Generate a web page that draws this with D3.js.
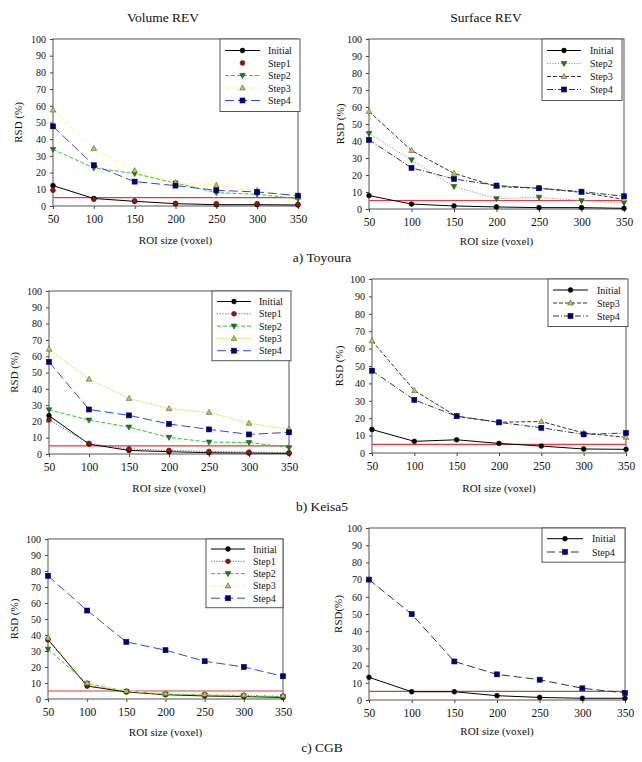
<!DOCTYPE html>
<html>
<head>
<meta charset="utf-8">
<script src="https://cdn.jsdelivr.net/npm/d3@7"></script>
<style>
  body { margin: 0; background: #fff; }
  svg text { font-family: "Liberation Serif", "DejaVu Serif", serif; fill: #111; }
</style>
</head>
<body>
<div id="chart"></div>
<script>
// shared axes
const roiSizes = [50, 100, 150, 200, 250, 300, 350];
const rsdTicks = [0, 10, 20, 30, 40, 50, 60, 70, 80, 90, 100];
const thresholdRsd = 5;

// a) Toyoura - volume REV
const toyVolInitial = [12.2, 4.5, 2.8, 1.4, 0.8, 0.8, 0.6];
const toyVolStep1 = [9.4, 4.0, 3.0, 1.4, 1.4, 1.4, 1.0];
const toyVolStep2 = [33.9, 22.8, 19.4, 13.8, 8.0, 7.0, 4.4];
const toyVolStep3 = [57.5, 34.5, 21.2, 14.0, 12.4, 9.4, 5.2];
const toyVolStep4 = [47.7, 24.4, 14.6, 12.2, 9.4, 8.4, 6.2];

// a) Toyoura - surface REV
const toySurfInitial = [7.9, 2.9, 1.8, 1.2, 0.8, 0.8, 0.4];
const toySurfStep2 = [44.4, 28.9, 13.2, 6.1, 6.9, 4.9, 3.7];
const toySurfStep3 = [57.4, 34.4, 21.0, 13.2, 12.2, 9.8, 5.7];
const toySurfStep4 = [40.7, 24.2, 17.7, 13.8, 12.2, 10.2, 7.5];

// b) Keisa5 - volume REV
const keiVolInitial = [23.5, 6.1, 2.2, 1.4, 0.8, 0.6, 0.4];
const keiVolStep1 = [21.0, 6.5, 3.1, 2.2, 1.6, 1.2, 0.8];
const keiVolStep2 = [27.1, 20.8, 16.5, 10.2, 7.3, 7.1, 3.9];
const keiVolStep3 = [64.3, 45.9, 34.1, 27.8, 25.5, 18.8, 15.3];
const keiVolStep4 = [56.5, 27.3, 23.7, 18.4, 15.1, 12.0, 13.3];

// b) Keisa5 - surface REV
const keiSurfInitial = [13.5, 6.7, 7.6, 5.5, 4.0, 2.3, 2.1];
const keiSurfStep3 = [64.5, 35.9, 21.0, 17.7, 18.1, 11.5, 9.0];
const keiSurfStep4 = [47.3, 30.5, 21.2, 17.6, 14.5, 10.7, 11.5];

// c) CGB - volume REV
const cgbVolInitial = [37.2, 8.1, 4.4, 2.7, 1.9, 1.5, 1.0];
const cgbVolStep1 = [37.0, 8.4, 4.8, 3.1, 2.7, 2.3, 1.7];
const cgbVolStep2 = [31.1, 9.8, 4.8, 2.9, 2.5, 1.9, 1.5];
const cgbVolStep3 = [38.2, 10.0, 5.0, 3.5, 2.9, 2.5, 2.1];
const cgbVolStep4 = [77.0, 55.3, 35.7, 30.5, 23.6, 20.0, 14.2];

// c) CGB - surface REV
const cgbSurfInitial = [13.2, 4.8, 4.8, 2.5, 1.5, 1.0, 1.0];
const cgbSurfStep4 = [70.0, 49.9, 22.4, 14.9, 11.8, 6.8, 4.1];

// line / marker looks
const styles = {
  initial: { stroke: '#000', dash: null, marker: 'circle', fill: '#000', mstroke: '#000' },
  step1dots: { stroke: 'none', dash: null, marker: 'circle', fill: '#9b1010', mstroke: '#6a0a0a' },
  step1dotted: { stroke: '#666', dash: '1.2,1.5', marker: 'circle', fill: '#9b1010', mstroke: '#6a0a0a' },
  step2green: { stroke: '#2ecc2e', dash: '4,2', marker: 'down', fill: '#1d7a1d', mstroke: '#145214' },
  step2dotted: { stroke: '#999', dash: '1.2,1.5', marker: 'down', fill: '#1d7a1d', mstroke: '#145214' },
  step3yellow: { stroke: '#ffff66', dash: '5,3', marker: 'up', fill: '#c8c83a', mstroke: '#555' },
  step3yellowdot: { stroke: '#d8d830', dash: '1.5,1.5', marker: 'up', fill: '#c8c83a', mstroke: '#555' },
  step3black: { stroke: '#333', dash: '4,2', marker: 'up', fill: '#c8c83a', mstroke: '#555' },
  step4blue: { stroke: '#3344ee', dash: '9,4', marker: 'square', fill: '#00007a', mstroke: '#00005a' },
  step4dashdot: { stroke: '#333', dash: '6,2,1,2', marker: 'square', fill: '#00007a', mstroke: '#00005a' },
  step4black: { stroke: '#333', dash: '8,4', marker: 'square', fill: '#00007a', mstroke: '#00005a' }
};

const panels = [
  {
    box: [53, 39, 298, 206], ylabel: 'RSD (%)', ylabelX: 18, xlabelY: 240,
    legend: { x: 220, w: 80, row: 12.5, first: 11.5, lineX: [5, 40], textX: 48 },
    series: [
      ['Initial', toyVolInitial, 'initial'], ['Step1', toyVolStep1, 'step1dots'],
      ['Step2', toyVolStep2, 'step2green'], ['Step3', toyVolStep3, 'step3yellow'],
      ['Step4', toyVolStep4, 'step4blue']
    ]
  },
  {
    box: [369, 39, 624, 209], ylabel: 'RSD (%)', ylabelX: 340, xlabelY: 241,
    legend: { x: 542, w: 80, row: 13, first: 11.5, lineX: [5, 39], textX: 48 },
    series: [
      ['Initial', toySurfInitial, 'initial'], ['Step2', toySurfStep2, 'step2dotted'],
      ['Step3', toySurfStep3, 'step3black'], ['Step4', toySurfStep4, 'step4dashdot']
    ]
  },
  {
    box: [49, 291, 289, 454], ylabel: 'RSD (%)', ylabelX: 14, xlabelY: 488,
    legend: { x: 212, w: 79, row: 12.3, first: 10.5, lineX: [5, 39], textX: 47 },
    series: [
      ['Initial', keiVolInitial, 'initial'], ['Step1', keiVolStep1, 'step1dotted'],
      ['Step2', keiVolStep2, 'step2green'], ['Step3', keiVolStep3, 'step3yellowdot'],
      ['Step4', keiVolStep4, 'step4blue']
    ]
  },
  {
    box: [372, 279, 626, 453], ylabel: 'RSD (%)', ylabelX: 339, xlabelY: 488,
    legend: { x: 548, w: 80, row: 13, first: 11, lineX: [5, 40], textX: 49 },
    series: [
      ['Initial', keiSurfInitial, 'initial'], ['Step3', keiSurfStep3, 'step3black'],
      ['Step4', keiSurfStep4, 'step4dashdot']
    ]
  },
  {
    box: [48, 539, 283, 699], ylabel: 'RSD (%)', ylabelX: 14, xlabelY: 732,
    legend: { x: 206, w: 77, row: 12.3, first: 10, lineX: [5, 39], textX: 47 },
    series: [
      ['Initial', cgbVolInitial, 'initial'], ['Step1', cgbVolStep1, 'step1dotted'],
      ['Step2', cgbVolStep2, 'step2green'], ['Step3', cgbVolStep3, 'step3yellow'],
      ['Step4', cgbVolStep4, 'step4blue']
    ]
  },
  {
    box: [369, 528, 625, 700], ylabel: 'RSD(%)', ylabelX: 338, xlabelY: 731,
    legend: { x: 542, w: 83, row: 13.3, first: 10.7, lineX: [5, 41], textX: 50 },
    series: [
      ['Initial', cgbSurfInitial, 'initial'], ['Step4', cgbSurfStep4, 'step4black']
    ]
  }
];

const svg = d3.select('#chart').append('svg')
  .attr('width', 642)
  .attr('height', 762);

// column titles and row captions
svg.append('text').attr('x', 163).attr('y', 22).attr('text-anchor', 'middle')
  .attr('font-size', 13.5).text('Volume REV');
svg.append('text').attr('x', 486).attr('y', 22).attr('text-anchor', 'middle')
  .attr('font-size', 13.5).text('Surface REV');
[['a) Toyoura', 262], ['b) Keisa5', 511], ['c) CGB', 752]].forEach(([t, y]) => {
  svg.append('text').attr('x', 322).attr('y', y).attr('text-anchor', 'middle')
    .attr('font-size', 13.5).text(t);
});

function drawMarker(g, kind, cx, cy, st) {
  let m;
  if (kind === 'circle') {
    m = g.append('circle').attr('cx', cx).attr('cy', cy).attr('r', 2.4);
  } else if (kind === 'square') {
    m = g.append('rect').attr('x', cx - 2.5).attr('y', cy - 2.5).attr('width', 5).attr('height', 5);
  } else {
    const s = kind === 'up' ? 1 : -1;
    m = g.append('path').attr('d', `M${cx},${cy - 3 * s}L${cx + 2.8},${cy + 2 * s}L${cx - 2.8},${cy + 2 * s}Z`);
  }
  m.attr('fill', st.fill).attr('stroke', st.mstroke).attr('stroke-width', 0.6);
}

panels.forEach((p) => {
  const [x0, y0, x1, y1] = p.box;
  const g = svg.append('g');

  const x = d3.scaleLinear().domain([50, 350]).range([x0, x1]);
  const y = d3.scaleLinear().domain([0, 100]).range([y1, y0]);

  // axes
  g.append('g')
    .attr('transform', `translate(${x0},0)`)
    .call(d3.axisLeft(y).tickValues(rsdTicks).tickSize(3).tickPadding(4))
    .call((a) => a.select('.domain').remove())
    .call((a) => a.selectAll('text').attr('font-size', 10))
    .call((a) => a.selectAll('line').attr('stroke', '#444'));

  g.append('g')
    .attr('transform', `translate(0,${y1})`)
    .call(d3.axisBottom(x).tickValues(roiSizes).tickSize(3).tickPadding(6))
    .call((a) => a.select('.domain').remove())
    .call((a) => a.selectAll('text').attr('font-size', 11.5))
    .call((a) => a.selectAll('line').attr('stroke', '#444'));

  // frame
  g.append('rect')
    .attr('x', x0).attr('y', y0)
    .attr('width', x1 - x0).attr('height', y1 - y0)
    .attr('fill', 'none').attr('stroke', '#555').attr('stroke-width', 1);

  // axis titles
  g.append('text')
    .attr('transform', `translate(${p.ylabelX},${(y0 + y1) / 2}) rotate(-90)`)
    .attr('text-anchor', 'middle').attr('dy', '0.35em')
    .attr('font-size', 11).text(p.ylabel);
  g.append('text')
    .attr('x', (x0 + x1) / 2).attr('y', p.xlabelY)
    .attr('text-anchor', 'middle').attr('dy', '0.35em')
    .attr('font-size', 11).text('ROI size (voxel)');

  // 5% threshold line
  g.append('line')
    .attr('x1', x0).attr('x2', x1)
    .attr('y1', y(thresholdRsd)).attr('y2', y(thresholdRsd))
    .attr('stroke', '#e23b3b').attr('stroke-width', 1.2);

  const line = d3.line()
    .x((d, i) => x(roiSizes[i]))
    .y((d) => y(d));

  p.series.forEach(([name, values, key]) => {
    const st = styles[key];
    if (st.stroke !== 'none') {
      g.append('path')
        .attr('d', line(values))
        .attr('fill', 'none')
        .attr('stroke', st.stroke)
        .attr('stroke-width', 1)
        .attr('stroke-dasharray', st.dash);
    }
    values.forEach((v, i) => drawMarker(g, st.marker, x(roiSizes[i]), y(v), st));
  });

  // legend
  const L = p.legend;
  const lh = L.first + L.row * (p.series.length - 1) + L.first - 0.5;
  const lg = g.append('g').attr('transform', `translate(${L.x},${y0})`);
  lg.append('rect')
    .attr('width', L.w).attr('height', lh)
    .attr('fill', '#fff').attr('stroke', '#555').attr('stroke-width', 1);
  p.series.forEach(([name, values, key], i) => {
    const st = styles[key];
    const ry = L.first + i * L.row;
    if (st.stroke !== 'none') {
      lg.append('line')
        .attr('x1', L.lineX[0]).attr('x2', L.lineX[1])
        .attr('y1', ry).attr('y2', ry)
        .attr('stroke', st.stroke).attr('stroke-width', 1)
        .attr('stroke-dasharray', st.dash);
    }
    drawMarker(lg, st.marker, (L.lineX[0] + L.lineX[1]) / 2, ry, st);
    lg.append('text')
      .attr('x', L.textX).attr('y', ry).attr('dy', '0.35em')
      .attr('font-size', 10).text(name);
  });
});
</script>
</body>
</html>
